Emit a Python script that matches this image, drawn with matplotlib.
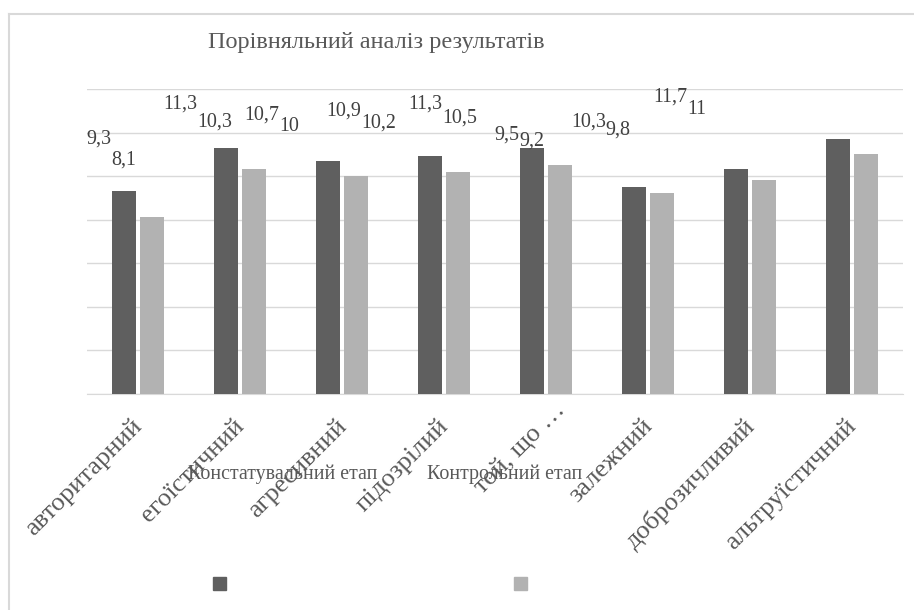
import numpy as np
import matplotlib
matplotlib.use("Agg")
import matplotlib.pyplot as plt
import matplotlib.transforms as mtrans
from matplotlib.patches import Rectangle
from matplotlib.lines import Line2D

categories = ["авторитарний", "егоїстичний", "агресивний", "підозрілий",
              "той, що …", "залежний", "доброзичливий", "альтруїстичний"]
konst = [9.3, 11.3, 10.7, 10.9, 11.3, 9.5, 10.3, 11.7]
kontr = [8.1, 10.3, 10.0, 10.2, 10.5, 9.2, 9.8, 11.0]
series_names = ["Констатувальний етап", "Контрольний етап"]
title = "Порівняльний аналіз результатів"

colors = ["#5f5f5f", "#b2b2b2"]
txt = "#595959"
grid = "#d9d9d9"

plt.rcParams["font.family"] = ["Liberation Serif", "DejaVu Serif"]

W, H = 914, 610
fig = plt.figure(figsize=(W / 100, H / 100), dpi=100)
ax = fig.add_axes([87 / W, 1 - 393.5 / H, 816 / W, 304.5 / H])

x = np.arange(len(categories))
bw = 0.235
off = 0.142
ax.bar(x - off, konst, bw, color=colors[0], zorder=3)
ax.bar(x + off, kontr, bw, color=colors[1], zorder=3)

ax.set_xlim(-0.5, len(categories) - 0.5)
ax.set_ylim(0, 14)
ax.set_yticks(np.arange(0, 15, 2))
ax.yaxis.grid(True, color=grid, lw=1.0)
ax.set_axisbelow(True)
ax.tick_params(left=False, labelleft=False, bottom=False, length=0, pad=6)
for s in ["top", "right", "left"]:
    ax.spines[s].set_visible(False)
ax.spines["bottom"].set_color(grid)
ax.set_xticks(x)
ax.set_xticklabels(categories, rotation=45, ha="right", rotation_mode="anchor",
                   fontsize=19, color=txt)

# nudge the rotated category names down-left; the truncated one sits higher
for i, lab in enumerate(ax.get_xticklabels()):
    dx, dy = (-7, -13) if i != 4 else (8, 3)
    shift = mtrans.ScaledTranslation(dx / 100, dy / 100, fig.dpi_scale_trans)
    lab.set_transform(lab.get_transform() + shift)

def fmt(v):
    return f"{v:g}".replace(".", ",")

# data labels drawn shrunk towards the top-left corner, as in the source
fig.canvas.draw()
r = fig.canvas.get_renderer()
k = 0.8

def squeezed(xv, yv):
    px, py = ax.transData.transform((xv, yv))
    return k * px, H - (k * (H - py) - 14)

for i in range(len(categories)):
    dx, dy = squeezed(x[i] - off, konst[i])
    t1 = fig.text(dx / W, dy / H, fmt(konst[i]), ha="center", va="center",
                  fontsize=14.4, color="#404040")
    b1 = t1.get_window_extent(r)
    lx, ly = squeezed(x[i] + off, kontr[i])
    t2 = fig.text(lx / W, ly / H, fmt(kontr[i]), ha="center", va="center",
                  fontsize=14.4, color="#404040")
    b2 = t2.get_window_extent(r)
    if b2.x0 < b1.x1:
        t2.set_x((lx + b1.x1 - b2.x0) / W)

fig.text(376 / W, 1 - 48 / H, title, ha="center", va="baseline",
         fontsize=17.5, color=txt)

# legend
for mx, tx, c, name in zip([213, 514], [188, 427], colors, series_names):
    fig.add_artist(Rectangle((mx / W, 1 - 590 / H), 13 / W, 13 / H,
                             transform=fig.transFigure, color=c))
    fig.text(tx / W, 1 - 479 / H, name, ha="left", va="baseline",
             fontsize=14.4, color=txt)

# chart border (clipped on right and bottom)
fig.add_artist(Line2D([9 / W, 9 / W], [0, 1 - 14 / H], color=grid, lw=1.5,
                      transform=fig.transFigure))
fig.add_artist(Line2D([9 / W, 1], [1 - 14 / H, 1 - 14 / H], color=grid, lw=1.5,
                      transform=fig.transFigure))

fig.savefig("out.png", dpi=100)
